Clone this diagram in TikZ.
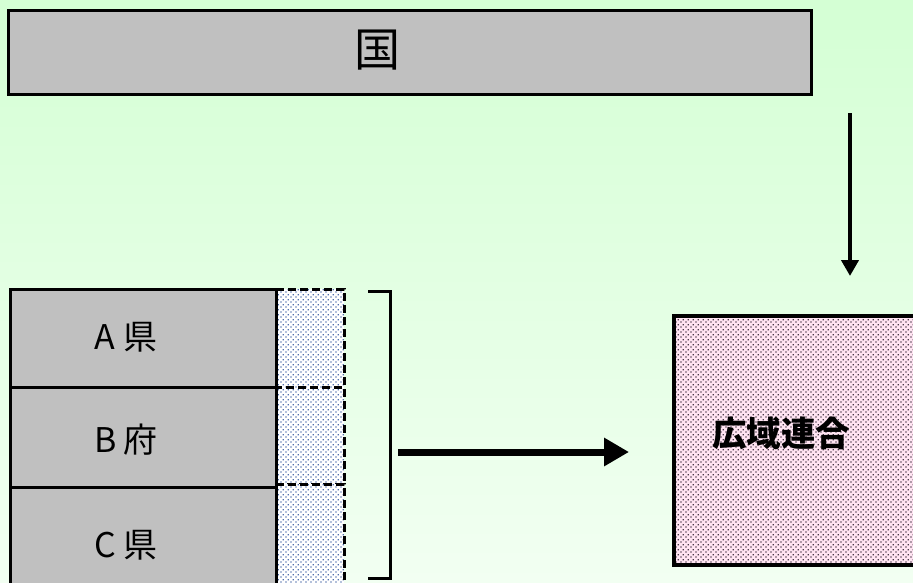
\documentclass[tikz,border=0pt]{standalone}
\usepackage{fontspec}
\setmainfont{Noto Sans CJK JP}
\usetikzlibrary{arrows.meta,patterns.meta}
\definecolor{bgtop}{RGB}{212,255,212}
\definecolor{bgbot}{RGB}{242,255,242}
\definecolor{boxgray}{RGB}{192,192,192}
\definecolor{dotblue}{RGB}{80,110,170}
\definecolor{pinkbg}{RGB}{255,228,242}
\definecolor{dotdark}{RGB}{70,55,70}
\pgfdeclarepattern{name=mydots, type=uncolored,
  bottom left={\pgfpoint{0pt}{0pt}}, top right={\pgfpoint{5pt}{5pt}},
  tile size={\pgfpoint{5pt}{5pt}},
  code={\pgfpathrectangle{\pgfpoint{0.5pt}{0.5pt}}{\pgfpoint{1.5pt}{1.5pt}}
        \pgfpathrectangle{\pgfpoint{3pt}{3pt}}{\pgfpoint{1.5pt}{1.5pt}}\pgfusepath{fill}}}
\tikzset{
  graybox/.style={draw=black, line width=3pt, fill=boxgray, inner sep=0pt},
  labeltext/.style={font=\fontsize{34}{40}\selectfont},
  dashline/.style={line width=3pt, dash pattern=on 8pt off 4pt},
  bigarrow/.style={line width=7pt, -{Triangle[length=25pt,width=27pt]}},
  downarrow/.style={line width=4pt, -{Triangle[length=16pt,width=17pt]}},
}
\begin{document}
\begin{tikzpicture}[x=1pt,y=-1pt]
\useasboundingbox (0,0) rectangle (913,582);
\shade[top color=bgtop, bottom color=bgbot] (0,0) rectangle (913,582);
% national box
\node[graybox, minimum width=803pt, minimum height=84pt] (kuni) at (409.5,52) {};
\node[font=\fontsize{46}{52}\selectfont] (kunit) at (377,50) {国};
% down arrow
\coordinate (d1) at (850,113);
\coordinate (d2) at (850,276);
\draw[downarrow] (d1) -- (d2);
% dotted extensions
\foreach \n/\ya/\yb in {da/289/387, db/387/484, dc/484/600}{
  \fill[white] (276,\ya) rectangle (344,\yb);
  \fill[pattern=mydots, pattern color=dotblue] (276,\ya) rectangle (344,\yb);
  \draw[dashline] (276,\ya) rectangle (344,\yb);
}
% prefecture boxes
\node[graybox, minimum width=266pt, minimum height=98pt] (a) at (143,338) {};
\node[graybox, minimum width=266pt, minimum height=100pt] (b) at (143,437) {};
\node[graybox, minimum width=266pt, minimum height=103pt] (c) at (143,538.5) {};
\node[labeltext] (at) at (126,337) {A 県};
\node[labeltext] (bt) at (126,440) {B 府};
\node[labeltext] (ct) at (126,545) {C 県};
% bracket
\coordinate (br1) at (368,291);
\coordinate (br2) at (390,291);
\coordinate (br3) at (390,578);
\coordinate (br4) at (368,578);
\draw[line width=3pt] (br1) -- (br2) -- (br3) -- (br4);
% horizontal arrow
\coordinate (h1) at (398,452);
\coordinate (h2) at (629,452);
\draw[bigarrow] (h1) -- (h2);
% union box
\fill[pinkbg] (674,316) rectangle (925,565);
\fill[pattern=mydots, pattern color=dotdark] (674,316) rectangle (925,565);
\draw[line width=4pt] (674,316) rectangle (925,565);
\node[font=\fontsize{34.5}{40}\selectfont\bfseries] (kouiki) at (781,433) {広域連合};
\end{tikzpicture}
\end{document}
